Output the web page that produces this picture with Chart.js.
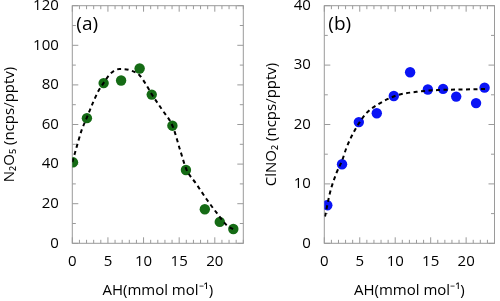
<!DOCTYPE html>
<html>
<head>
<meta charset="utf-8">
<script src="https://cdn.jsdelivr.net/npm/chart.js@4.4.1/dist/chart.umd.min.js"></script>
<style>
html, body { margin: 0; padding: 0; background: #fff; }
#wrap { position: relative; width: 500px; height: 301px; }
canvas { position: absolute; top: 0; }
</style>
</head>
<body>
<div id="wrap">
  <canvas id="panelA" width="250" height="301" style="left:0"></canvas>
  <canvas id="panelB" width="250" height="301" style="left:250px"></canvas>
</div>
<script>
// (a) N2O5 sensitivity vs absolute humidity
const ahA = [0.1, 2.05, 4.4, 6.85, 9.45, 11.15, 14.05, 15.95, 18.6, 20.7, 22.6];
const n2o5 = [40.9, 63.2, 80.9, 82.2, 88.3, 75.1, 59.4, 37.0, 17.2, 10.8, 7.2];
// dashed fit
const fitAx = [0, 0.4, 1.3, 2.1, 2.9, 3.6, 4.4, 5.3, 6.6, 8.0, 9.4, 10.3, 11.2, 12.6, 14.1, 15.1, 16.0, 17.4, 18.9, 20.3, 21.7, 22.8];
const fitAy = [41, 46, 57, 64, 71, 76.5, 81, 85.5, 88, 87.5, 85, 80.5, 75, 67.5, 59, 47.5, 37.5, 30, 22, 15.2, 9, 6.8];

// (b) ClNO2 sensitivity vs absolute humidity
const ahB = [0.42, 2.5, 4.87, 7.4, 9.8, 12.1, 14.6, 16.75, 18.6, 21.4, 22.6];
const clno2 = [6.4, 13.3, 20.4, 21.9, 24.8, 28.8, 25.9, 26.0, 24.7, 23.6, 26.2];
const fitBx = [0.1, 0.8, 1.7, 2.5, 3.1, 4.1, 5.0, 6.0, 7.6, 10.2, 13.0, 16.0, 20.0, 23.0];
const fitBy = [4.5, 8.5, 11.8, 13.9, 16.0, 18.6, 20.4, 22.0, 23.4, 24.9, 25.5, 25.8, 25.9, 26.0];

const xTicks = [0, 5, 10, 15, 20];
const yTicksA = [0, 20, 40, 60, 80, 100, 120];
const yTicksB = [0, 10, 20, 30, 40];

const fuente = { family: 'Open Sans', size: 15 };
const gris = '#9a9a9a';

// marco gris con ticks hacia dentro en los cuatro lados
const marco = {
  id: 'marco',
  beforeDatasetsDraw(chart, args, opts) {
    const { ctx, chartArea } = chart;
    const { left, right, top, bottom } = chartArea;
    const sx = chart.scales.x, sy = chart.scales.y;
    ctx.save();
    ctx.strokeStyle = gris;
    ctx.lineWidth = 1;
    ctx.strokeRect(left, top, right - left, bottom - top);
    ctx.beginPath();
    for (let i = 0; i <= sx.max; i++) {
      const px = sx.getPixelForValue(i);
      const len = i % 5 === 0 ? 6 : 3.5;
      ctx.moveTo(px, bottom); ctx.lineTo(px, bottom - len);
      ctx.moveTo(px, top); ctx.lineTo(px, top + len);
    }
    for (let i = 0; i * opts.yMenor <= sy.max; i++) {
      const v = i * opts.yMenor;
      const py = sy.getPixelForValue(v);
      const len = v % opts.yMayor === 0 ? 6 : 3.5;
      ctx.moveTo(left, py); ctx.lineTo(left + len, py);
      ctx.moveTo(right, py); ctx.lineTo(right - len, py);
    }
    ctx.stroke();
    ctx.restore();
  },
  afterDraw(chart, args, opts) {
    const { ctx, chartArea } = chart;
    ctx.save();
    ctx.fillStyle = '#000';
    ctx.font = '19px "Open Sans"';
    ctx.textBaseline = 'middle';
    ctx.fillText(opts.etiqueta, chartArea.left + 4, chartArea.top + 19);
    ctx.restore();
  }
};

function crearPanel(id, cfg) {
  return new Chart(document.getElementById(id), {
    type: 'scatter',
    data: {
      datasets: [{
        data: cfg.fitX.map((x, i) => ({ x: x, y: cfg.fitY[i] })),
        showLine: true,
        borderColor: '#000',
        borderWidth: 2,
        borderDash: [4, 3.5],
        pointRadius: 0,
        cubicInterpolationMode: 'monotone',
        order: 0
      }, {
        data: cfg.x.map((x, i) => ({ x: x, y: cfg.y[i] })),
        pointRadius: 5.2,
        pointBackgroundColor: cfg.color,
        pointBorderWidth: 0,
        order: 1
      }]
    },
    options: {
      responsive: false,
      animation: false,
      layout: { padding: { left: 0, top: 5.7, right: cfg.padRight, bottom: 0 } },
      plugins: {
        legend: { display: false },
        tooltip: { enabled: false },
        marco: { yMenor: cfg.yMenor, yMayor: cfg.yMayor, etiqueta: cfg.etiqueta }
      },
      scales: {
        x: {
          type: 'linear', min: 0, max: 24,
          grid: { display: false }, border: { display: false },
          ticks: { font: fuente, color: '#000', padding: 1, maxRotation: 0 },
          afterBuildTicks: s => { s.ticks = xTicks.map(v => ({ value: v })); },
          afterFit: s => { s.height = 57.7; s.paddingLeft = 0; s.paddingRight = 0; },
          title: { display: true, text: 'AH(mmol mol⁻¹)', font: fuente, color: '#000', padding: { top: 0, bottom: 1.4 } }
        },
        y: {
          type: 'linear', min: 0, max: cfg.yMax,
          grid: { display: false }, border: { display: false },
          ticks: { font: fuente, color: '#000', padding: 5.5 },
          afterBuildTicks: s => { s.ticks = cfg.yTicks.map(v => ({ value: v })); },
          afterFit: s => { s.width = cfg.ancho; s.paddingTop = 0; s.paddingBottom = 0; },
          title: { display: true, text: cfg.titulo, font: fuente, color: '#000', padding: { top: cfg.padTitulo, bottom: 0 } }
        }
      }
    },
    plugins: [marco]
  });
}

crearPanel('panelA', {
  x: ahA, y: n2o5, fitX: fitAx, fitY: fitAy, color: '#156b15',
  yMax: 120, yTicks: yTicksA, yMenor: 10, yMayor: 20,
  ancho: 72.3, padRight: 6.7, padTitulo: 0.5,
  titulo: 'N₂O₅ (ncps/pptv)', etiqueta: '(a)'
});

crearPanel('panelB', {
  x: ahB, y: clno2, fitX: fitBx, fitY: fitBy, color: '#0a14f5',
  yMax: 40, yTicks: yTicksB, yMenor: 5, yMayor: 10,
  ancho: 74.3, padRight: 5.5, padTitulo: 12.5,
  titulo: 'ClNO₂ (ncps/pptv)', etiqueta: '(b)'
});
</script>
</body>
</html>
